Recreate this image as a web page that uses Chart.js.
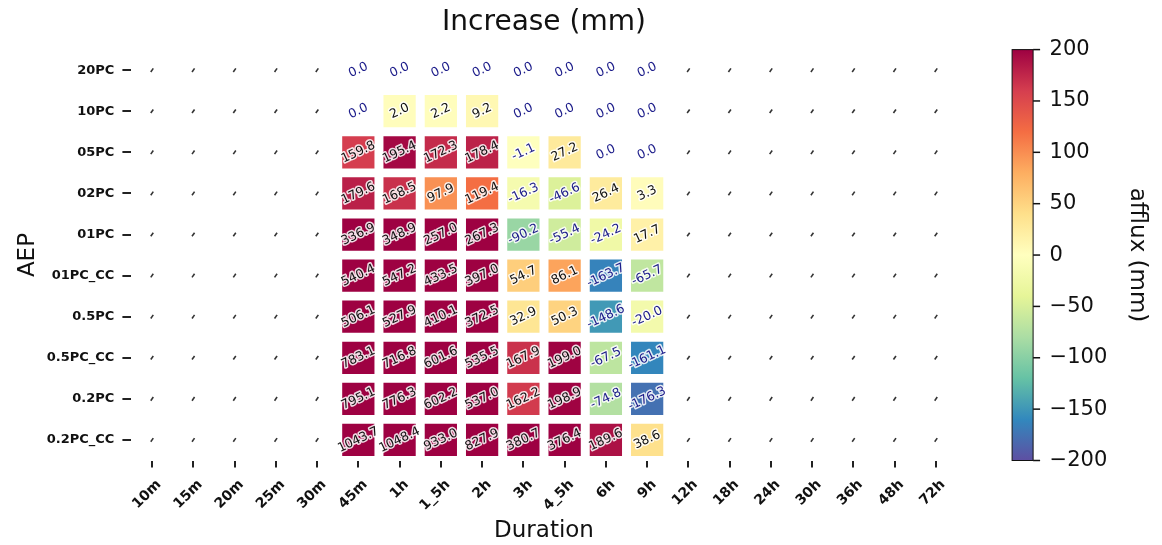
<!DOCTYPE html>
<html>
<head>
<meta charset="utf-8">
<script src="https://cdn.jsdelivr.net/npm/chart.js@4.4.0/dist/chart.umd.min.js"></script>
<style>
html,body{margin:0;padding:0;background:#fff;}
#wrap{width:1162px;height:545px;position:relative;}
</style>
</head>
<body>
<div id="wrap"><canvas id="c"></canvas></div>
<script>
// ---- categories ----
const durations = ['10m','15m','20m','25m','30m','45m','1h','1_5h','2h','3h','4_5h','6h','9h','12h','18h','24h','30h','36h','48h','72h'];
const aepLabels = ['20PC','10PC','05PC','02PC','01PC','01PC_CC','0.5PC','0.5PC_CC','0.2PC','0.2PC_CC'];
const modelledDurations = ['45m','1h','1_5h','2h','3h','4_5h','6h','9h'];

// ---- afflux values (mm), one array per AEP, ordered as modelledDurations ----
const afflux20PC    = [0.0, 0.0, 0.0, 0.0, 0.0, 0.0, 0.0, 0.0];
const afflux10PC    = [0.0, 2.0, 2.2, 9.2, 0.0, 0.0, 0.0, 0.0];
const afflux05PC    = [159.8, 195.4, 172.3, 178.4, -1.1, 27.2, 0.0, 0.0];
const afflux02PC    = [179.6, 168.5, 97.9, 119.4, -16.3, -46.6, 26.4, 3.3];
const afflux01PC    = [336.9, 348.9, 257.0, 267.3, -90.2, -55.4, -24.2, 17.7];
const afflux01PC_CC = [540.4, 547.2, 433.5, 397.0, 54.7, 86.1, -163.7, -65.7];
const afflux05PCb   = [506.1, 527.9, 410.1, 372.5, 32.9, 50.3, -148.6, -20.0];
const afflux05PC_CC = [783.1, 716.8, 601.6, 535.5, 167.9, 199.0, -67.5, -161.1];
const afflux02PCb   = [795.1, 776.3, 602.2, 537.0, 162.2, 198.9, -74.8, -176.3];
const afflux02PC_CC = [1043.7, 1048.4, 933.0, 827.9, 380.7, 376.4, 189.6, 38.6];

// ---- colour bar ----
const colorbarMin = -200;
const colorbarMax = 200;
const colorbarStep = 50;

const rowsByAep = {
  '20PC': afflux20PC, '10PC': afflux10PC, '05PC': afflux05PC, '02PC': afflux02PC,
  '01PC': afflux01PC, '01PC_CC': afflux01PC_CC, '0.5PC': afflux05PCb,
  '0.5PC_CC': afflux05PC_CC, '0.2PC': afflux02PCb, '0.2PC_CC': afflux02PC_CC
};

const spectral = ['#5e4fa2','#3288bd','#66c2a5','#abdda4','#e6f598','#ffffbf','#fee08b','#fdae61','#f46d43','#d53e4f','#9e0142'];
function hexToRgb(h){ return [parseInt(h.substr(1,2),16),parseInt(h.substr(3,2),16),parseInt(h.substr(5,2),16)]; }
function cmap(v){
  let t = (v - colorbarMin) / (colorbarMax - colorbarMin);
  t = Math.max(0, Math.min(1, t));
  const p = t * (spectral.length - 1);
  const i = Math.min(spectral.length - 2, Math.floor(p));
  const f = p - i;
  const a = hexToRgb(spectral[i]), b = hexToRgb(spectral[i+1]);
  const c = a.map((x,k)=>Math.round(x + (b[k]-x)*f));
  return 'rgb(' + c.join(',') + ')';
}

const cellPoints = [];
aepLabels.forEach(aep => rowsByAep[aep].forEach((v, i) => cellPoints.push({x: modelledDurations[i], y: aep, v: v})));
const emptyPoints = [];
aepLabels.forEach(aep => durations.filter(d => !modelledDurations.includes(d)).forEach(d => emptyPoints.push({x: d, y: aep})));

function cellRadius(ctx){
  const s = ctx.chart.scales.x;
  const step = Math.abs(s.getPixelForValue(1) - s.getPixelForValue(0));
  const r = (step - 9) / Math.SQRT2;
  return isFinite(r) && r > 1 ? r : 1;
}

const annotatePlugin = {
  id: 'annotate',
  afterDatasetsDraw(chart){
    const meta = chart.getDatasetMeta(0);
    const ctx = chart.ctx;
    meta.data.forEach((el, i) => {
      const v = cellPoints[i].v;
      const txt = v.toFixed(1);
      ctx.save();
      ctx.translate(el.x, el.y);
      ctx.rotate(-25 * Math.PI / 180);
      ctx.font = '12.5px "DejaVu Sans"';
      ctx.textAlign = 'center';
      ctx.textBaseline = 'middle';
      ctx.lineJoin = 'round';
      ctx.lineWidth = 3;
      ctx.strokeStyle = 'rgba(255,255,255,0.85)';
      ctx.strokeText(txt, 0, 0);
      ctx.fillStyle = v <= 0 ? '#1c1c8a' : '#111111';
      ctx.fillText(txt, 0, 0);
      ctx.restore();
    });
  }
};

const colorbarPlugin = {
  id: 'colorbar',
  afterDraw(chart){
    const cb = chart.scales.cb;
    const ctx = chart.ctx;
    const x0 = cb.left + 55.5, w = 21;
    const yTop = cb.getPixelForValue(colorbarMax), yBot = cb.getPixelForValue(colorbarMin);
    const g = ctx.createLinearGradient(0, yBot, 0, yTop);
    spectral.forEach((c, i) => g.addColorStop(i / (spectral.length - 1), c));
    ctx.save();
    ctx.fillStyle = g;
    ctx.fillRect(x0, yTop, w, yBot - yTop);
    ctx.strokeStyle = '#111';
    ctx.lineWidth = 1;
    ctx.strokeRect(x0, yTop, w, yBot - yTop);
    ctx.lineWidth = 1.5;
    cb.ticks.forEach(t => {
      const y = cb.getPixelForValue(t.value);
      ctx.beginPath();
      ctx.moveTo(x0 + w, y);
      ctx.lineTo(x0 + w + 7, y);
      ctx.stroke();
    });
    ctx.restore();
  }
};

Chart.defaults.font.family = '"DejaVu Sans"';
Chart.defaults.color = '#111';

new Chart(document.getElementById('c'), {
  type: 'scatter',
  data: {
    datasets: [
      {
        label: 'afflux',
        data: cellPoints,
        pointStyle: 'rect',
        pointRadius: cellRadius,
        pointHoverRadius: cellRadius,
        pointBorderWidth: 0,
        pointBackgroundColor: ctx => (ctx.raw && ctx.raw.v !== 0) ? cmap(ctx.raw.v) : 'rgba(0,0,0,0)',
        pointBorderColor: 'rgba(0,0,0,0)'
      },
      {
        label: 'no data',
        data: emptyPoints,
        pointStyle: 'line',
        rotation: -55,
        pointRadius: 2.2,
        pointBorderWidth: 1.6,
        pointBorderColor: '#333'
      }
    ]
  },
  options: {
    responsive: true,
    maintainAspectRatio: false,
    animation: false,
    events: [],
    layout: { padding: 0, autoPadding: false },
    plugins: {
      legend: { display: false },
      tooltip: { enabled: false },
      title: {
        display: true,
        text: 'Increase (mm)',
        fullSize: false,
        font: { size: 28, weight: 'normal' },
        color: '#111',
        padding: { top: 6, bottom: 10 }
      }
    },
    scales: {
      x: {
        type: 'category',
        labels: durations,
        offset: true,
        position: 'bottom',
        grid: { display: true, drawOnChartArea: false, drawTicks: true, tickLength: 7, color: '#222', lineWidth: 2, offset: false },
        border: { display: false },
        ticks: { autoSkip: false, minRotation: 45, maxRotation: 45, padding: 9, labelOffset: 7, font: { size: 14, weight: 'bold' }, color: '#111' },
        title: { display: true, text: 'Duration', font: { size: 23, weight: 'normal' }, color: '#111', padding: { top: 0, bottom: 0 } },
        afterFit: s => { s.height = 84.5; s.paddingLeft = 0; s.paddingRight = 0; }
      },
      y: {
        type: 'category',
        labels: aepLabels,
        offset: true,
        position: 'left',
        grid: { display: true, drawOnChartArea: false, drawTicks: true, tickLength: 9, color: '#222', lineWidth: 2, offset: false },
        border: { display: false },
        ticks: { autoSkip: false, padding: 8, font: { size: 13, weight: 'bold' }, color: '#111' },
        title: { display: true, text: 'AEP', font: { size: 23, weight: 'normal' }, color: '#111', padding: { top: 14, bottom: 0 } },
        afterFit: s => { s.width = 131.4; s.paddingTop = 0; s.paddingBottom = 0; }
      },
      cb: {
        type: 'linear',
        axis: 'y',
        position: 'right',
        min: colorbarMin,
        max: colorbarMax,
        grid: { display: false, drawTicks: false },
        border: { display: false },
        ticks: {
          stepSize: colorbarStep,
          padding: 93,
          font: { size: 21 },
          color: '#111',
          callback: v => v < 0 ? '\u2212' + Math.abs(v) : String(v)
        },
        title: { display: true, text: 'afflux (mm)', font: { size: 23, weight: 'normal' }, color: '#111', padding: { top: 11, bottom: 0 } },
        afterFit: s => { s.width = 205.4; s.paddingTop = 0; s.paddingBottom = 0; }
      }
    }
  },
  plugins: [annotatePlugin, colorbarPlugin]
});
</script>
</body>
</html>
